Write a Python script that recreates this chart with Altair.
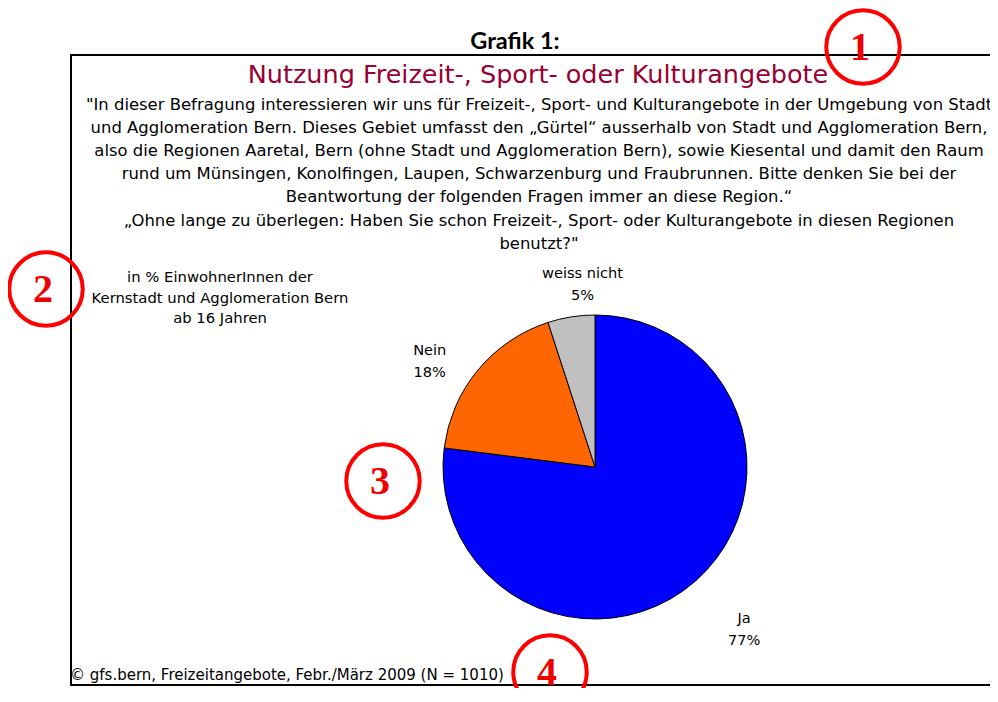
import altair as alt
import pandas as pd

# ---- data ----
categories = ["Ja", "Nein", "weiss nicht"]
values = [77, 18, 5]
colors = ["#0000FF", "#FF6600", "#C0C0C0"]

header_text = "Grafik 1:"
title_text = "Nutzung Freizeit-, Sport- oder Kulturangebote"
question_lines = [
    "\"In dieser Befragung interessieren wir uns für Freizeit-, Sport- und Kulturangebote in der Umgebung von Stadt",
    "und Agglomeration Bern. Dieses Gebiet umfasst den „Gürtel“ ausserhalb von Stadt und Agglomeration Bern,",
    "also die Regionen Aaretal, Bern (ohne Stadt und Agglomeration Bern), sowie Kiesental und damit den Raum",
    "rund um Münsingen, Konolfingen, Laupen, Schwarzenburg und Fraubrunnen. Bitte denken Sie bei der",
    "Beantwortung der folgenden Fragen immer an diese Region.“",
    "„Ohne lange zu überlegen: Haben Sie schon Freizeit-, Sport- oder Kulturangebote in diesen Regionen",
    "benutzt?\"",
]
base_lines = ["in % EinwohnerInnen der", "Kernstadt und Agglomeration Bern", "ab 16 Jahren"]
source_text = "© gfs.bern, Freizeitangebote, Febr./März 2009 (N = 1010)"
marker_labels = ["1", "2", "3", "4"]

FONT = "DejaVu Sans"
W, H = 982, 680
CX, CY = 587, 459  # pie centre (chart px)

pie_df = pd.DataFrame({
    "category": categories,
    "value": values,
    "order": list(range(len(categories))),
    "label": [f"{c}\n{v}%" for c, v in zip(categories, values)],
})

theta_scale = alt.Scale(domain=[0, 100])

arcs = alt.Chart(pie_df).mark_arc(outerRadius=152, stroke="black", strokeWidth=1).encode(
    theta=alt.Theta("value:Q", stack=True, scale=theta_scale),
    color=alt.Color("category:N", scale=alt.Scale(domain=categories, range=colors), legend=None),
    order=alt.Order("order:Q"),
    x=alt.value(CX),
    y=alt.value(CY),
)

# label placement tweaks (radius, dx, dy) per category
label_style = {"Ja": (221, 3, -14), "Nein": (195, -15, 8), "weiss nicht": (182, 16, -13)}

label_layers = []
for cat in categories:
    r, dx, dy = label_style[cat]
    lay = alt.Chart(pie_df).transform_window(
        cum="sum(value)", sort=[alt.SortField("order")]
    ).transform_calculate(
        mid="datum.cum - datum.value / 2"
    ).transform_filter(
        alt.datum.category == cat
    ).mark_text(
        font=FONT, fontSize=14.6, color="black", align="center", baseline="middle",
        lineBreak="\n", lineHeight=22, dx=dx, dy=dy,
    ).encode(
        theta=alt.Theta("mid:Q", scale=theta_scale),
        radius=alt.value(r),
        text="label:N",
        x=alt.value(CX),
        y=alt.value(CY),
    )
    label_layers.append(lay)

# frame
frame = alt.Chart(pd.DataFrame({"a": [0]})).mark_rect(
    fillOpacity=0, stroke="black", strokeWidth=2
).encode(x=alt.value(63), x2=alt.value(1020), y=alt.value(47), y2=alt.value(677))

def text_layer(text, x, y, **kw):
    df = pd.DataFrame({"t": [text]})
    return alt.Chart(df).mark_text(**kw).encode(text="t:N", x=alt.value(x), y=alt.value(y))

header = text_layer(header_text, 507, 41, font="Lato", fontWeight="bold", fontSize=23.5,
                    color="black", align="center", baseline="alphabetic")
title = text_layer(title_text, 530, 75, font=FONT, fontSize=25.5, color="#990033",
                   align="center", baseline="alphabetic")
question = text_layer("\n".join(question_lines), 531, 102, font=FONT, fontSize=16.45,
                      color="black", align="center", baseline="alphabetic",
                      lineBreak="\n", lineHeight=23.1)
base = text_layer("\n".join(base_lines), 212, 274, font=FONT, fontSize=14.8, color="black",
                  align="center", baseline="alphabetic", lineBreak="\n", lineHeight=20.5)
source = text_layer(source_text, 62, 672, font=FONT, fontSize=15, color="black",
                    align="left", baseline="alphabetic")

# red annotation markers
marker_pos = [(855, 39), (38, 281), (375, 473), (542, 664)]
marker_layers = []
for lab, (mx, my) in zip(marker_labels, marker_pos):
    df = pd.DataFrame({"t": [lab]})
    marker_layers.append(
        alt.Chart(df).mark_point(shape="circle", filled=False, stroke="#FF0000",
                                 strokeWidth=4, size=5400, opacity=1).encode(
            x=alt.value(mx), y=alt.value(my))
    )
    marker_layers.append(
        alt.Chart(df).mark_text(font="Liberation Serif", fontWeight="bold", fontSize=40,
                                color="#EE0000", align="center", baseline="alphabetic").encode(
            text="t:N", x=alt.value(mx - 3), y=alt.value(my + 13))
    )

chart = alt.layer(
    frame, arcs, *label_layers, header, title, question, base, source, *marker_layers
).properties(
    width=W, height=H, padding=0, autosize=alt.AutoSizeParams(type="none"),
    background="white",
).configure_view(strokeWidth=0)

chart.save("out.html", embed_options={"renderer": "svg", "actions": False})
